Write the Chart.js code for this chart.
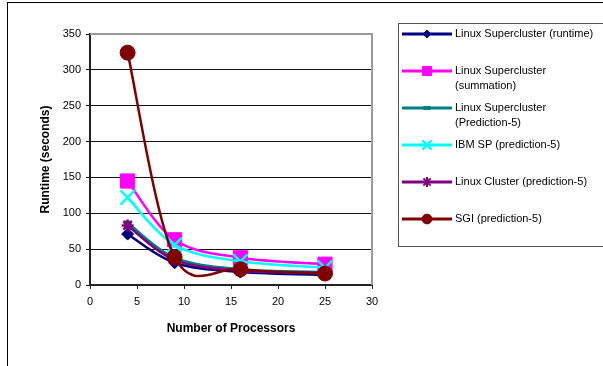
<!DOCTYPE html>
<html>
<head>
<meta charset="utf-8">
<script src="https://cdn.jsdelivr.net/npm/chart.js@4/dist/chart.umd.min.js"></script>
<style>
  html, body { margin: 0; padding: 0; background: #fff; }
  #wrap { position: relative; width: 603px; height: 366px; }
</style>
</head>
<body>
<div id="wrap"><canvas id="c" width="603" height="366"></canvas></div>
<script>
// Processor counts on the x axis
const processors = [4, 9, 16, 25];

// Runtime in seconds for each machine / model
const seriesNames = [
  'Linux Supercluster (runtime)',
  'Linux Supercluster (summation)',
  'Linux Supercluster (Prediction-5)',
  'IBM SP (prediction-5)',
  'Linux Cluster (prediction-5)',
  'SGI (prediction-5)'
];
const superRuntime   = [71, 31, 18, 14];
const superSummation = [145, 63, 38, 29];
const superPredict   = [87, 38, 22, 18];
const ibmSpPredict   = [122, 56, 33, 24];
const clusterPredict = [83, 35, 20, 17];
const sgiPredict     = [324, 39, 22, 16];

const xTicks = [0, 5, 10, 15, 20, 25, 30];
const yTicks = [0, 50, 100, 150, 200, 250, 300, 350];

const FONT = "'Liberation Sans', Arial, sans-serif";

const styles = [
  { color: '#000080', pointStyle: 'rectRot', radius: 6,  fill: true,  legendScale: 0.65 },
  { color: '#FF00FF', pointStyle: 'rect',    radius: 10, fill: true,  legendScale: 0.65 },
  { color: '#008080', pointStyle: 'line',    radius: 4,  fill: true,  legendScale: 0.9 },
  { color: '#00FFFF', pointStyle: 'crossRot',radius: 10, fill: false, legendScale: 0.65 },
  { color: '#800080', pointStyle: 'star',    radius: 6,  fill: false, legendScale: 0.85 },
  { color: '#800000', pointStyle: 'circle',  radius: 7.5,fill: true,  legendScale: 0.65 }
];
const values = [superRuntime, superSummation, superPredict, ibmSpPredict, clusterPredict, sgiPredict];

const datasets = values.map((vals, i) => ({
  label: seriesNames[i],
  data: vals.map((v, j) => ({ x: processors[j], y: v })),
  borderColor: styles[i].color,
  backgroundColor: styles[i].color,
  borderWidth: 2.5,
  tension: 0.4,
  pointStyle: styles[i].pointStyle,
  pointRadius: styles[i].radius,
  pointBorderWidth: styles[i].pointStyle === 'line' ? 4 : (styles[i].fill ? 1 : 2.5),
  pointBackgroundColor: styles[i].color,
  pointBorderColor: styles[i].color,
  order: values.length - 1 - i
}));

// Uniform Catmull-Rom style smoothing (control arms = 1/6 of the chord
// between neighbours), applied to the bezier control points of each line.
const SMOOTH = 1 / 6;
const smoothCurves = {
  id: 'smoothCurves',
  beforeDatasetsDraw(chart) {
    chart.getSortedVisibleDatasetMetas().forEach(meta => {
      const line = meta.dataset;
      if (!line) return;
      line.updateControlPoints(chart.chartArea, meta.iScale.axis);
      const pts = meta.data;
      const n = pts.length;
      for (let i = 0; i < n; i++) {
        const p = pts[i];
        const prev = pts[Math.max(i - 1, 0)];
        const next = pts[Math.min(i + 1, n - 1)];
        const dx = (next.x - prev.x) * SMOOTH;
        const dy = (next.y - prev.y) * SMOOTH;
        p.cp1x = p.x - dx; p.cp1y = p.y - dy;
        p.cp2x = p.x + dx; p.cp2y = p.y + dy;
      }
      line._path = undefined;
    });
  }
};

// Outer frame, plot-area border and the legend box
const decorations = {
  id: 'decorations',
  beforeDraw(chart) {
    const ctx = chart.ctx;
    ctx.save();
    ctx.fillStyle = '#fff';
    ctx.fillRect(0, 0, chart.width, chart.height);
    ctx.restore();
  },
  afterDatasetsDraw(chart) {
    const ctx = chart.ctx;
    const a = chart.chartArea;
    ctx.save();
    ctx.strokeStyle = '#9a9a9a';
    ctx.lineWidth = 2;
    ctx.beginPath();
    ctx.moveTo(a.left, a.top);
    ctx.lineTo(a.right, a.top);
    ctx.lineTo(a.right, a.bottom);
    ctx.stroke();
    ctx.restore();
  },
  afterDraw(chart) {
    const ctx = chart.ctx;
    ctx.save();
    // outer chart frame
    ctx.strokeStyle = '#000';
    ctx.lineWidth = 1;
    ctx.strokeRect(7.5, 2.5, 800, 600);

    // legend box
    const boxX = 398.5, boxY = 23.5, boxH = 223;
    ctx.strokeStyle = '#555';
    ctx.strokeRect(boxX, boxY, 400, boxH);

    const lineX0 = 402, lineX1 = 452, markX = 427, textX = 455;
    const rowStep = 37, firstY = 34, lineH = 15, wrapW = 148;
    ctx.font = '11px ' + FONT;
    ctx.textBaseline = 'middle';
    chart.data.datasets.forEach((ds, i) => {
      const y = firstY + i * rowStep;
      ctx.strokeStyle = ds.borderColor;
      ctx.lineWidth = 3;
      ctx.beginPath();
      ctx.moveTo(lineX0, y);
      ctx.lineTo(lineX1, y);
      ctx.stroke();
      ctx.fillStyle = ds.pointBackgroundColor;
      ctx.strokeStyle = ds.pointBorderColor;
      const bw = ds.pointStyle === 'star' ? 2 : ds.pointBorderWidth;
      ctx.lineWidth = bw;
      Chart.helpers.drawPoint(ctx, {
        pointStyle: ds.pointStyle,
        radius: ds.pointRadius * styles[i].legendScale,
        rotation: 0,
        borderWidth: bw
      }, markX, y);
      const words = ds.label.split(' ');
      const lines = [];
      let cur = '';
      words.forEach(w => {
        const t = cur ? cur + ' ' + w : w;
        if (ctx.measureText(t).width > wrapW && cur) { lines.push(cur); cur = w; }
        else cur = t;
      });
      lines.push(cur);
      ctx.fillStyle = '#000';
      lines.forEach((ln, k) => ctx.fillText(ln, textX, y + k * lineH));
    });
    ctx.restore();
  }
};

new Chart(document.getElementById('c'), {
  type: 'line',
  data: { datasets },
  plugins: [smoothCurves, decorations],
  options: {
    responsive: false,
    animation: false,
    devicePixelRatio: 1,
    layout: { padding: { left: 34, top: 34, right: 231, bottom: 26 } },
    plugins: { legend: { display: false }, tooltip: { enabled: false } },
    scales: {
      x: {
        type: 'linear',
        min: 0, max: 30,
        afterBuildTicks(s) { s.ticks = xTicks.map(v => ({ value: v })); },
        afterFit(s) { s.height = 55; },
        grid: { drawOnChartArea: false, drawTicks: true, tickLength: 4, color: '#222', lineWidth: 1 },
        border: { color: '#222', width: 2 },
        ticks: { color: '#000', font: { family: FONT, size: 11 }, padding: 6, maxRotation: 0 },
        title: { display: true, text: 'Number of Processors', color: '#000',
                 font: { family: FONT, size: 12, weight: 'bold' }, padding: { top: 4, bottom: 4 } }
      },
      y: {
        type: 'linear',
        min: 0, max: 350,
        afterBuildTicks(s) { s.ticks = yTicks.map(v => ({ value: v })); },
        afterFit(s) { s.width = 56; },
        grid: { drawOnChartArea: true, drawTicks: true, tickLength: 4, color: '#111', lineWidth: 1 },
        border: { color: '#222', width: 2 },
        ticks: { color: '#000', font: { family: FONT, size: 11 }, padding: 5 },
        title: { display: true, text: 'Runtime (seconds)', color: '#000',
                 font: { family: FONT, size: 12, weight: 'bold' }, padding: { top: 4, bottom: 4 } }
      }
    }
  }
});
</script>
</body>
</html>
